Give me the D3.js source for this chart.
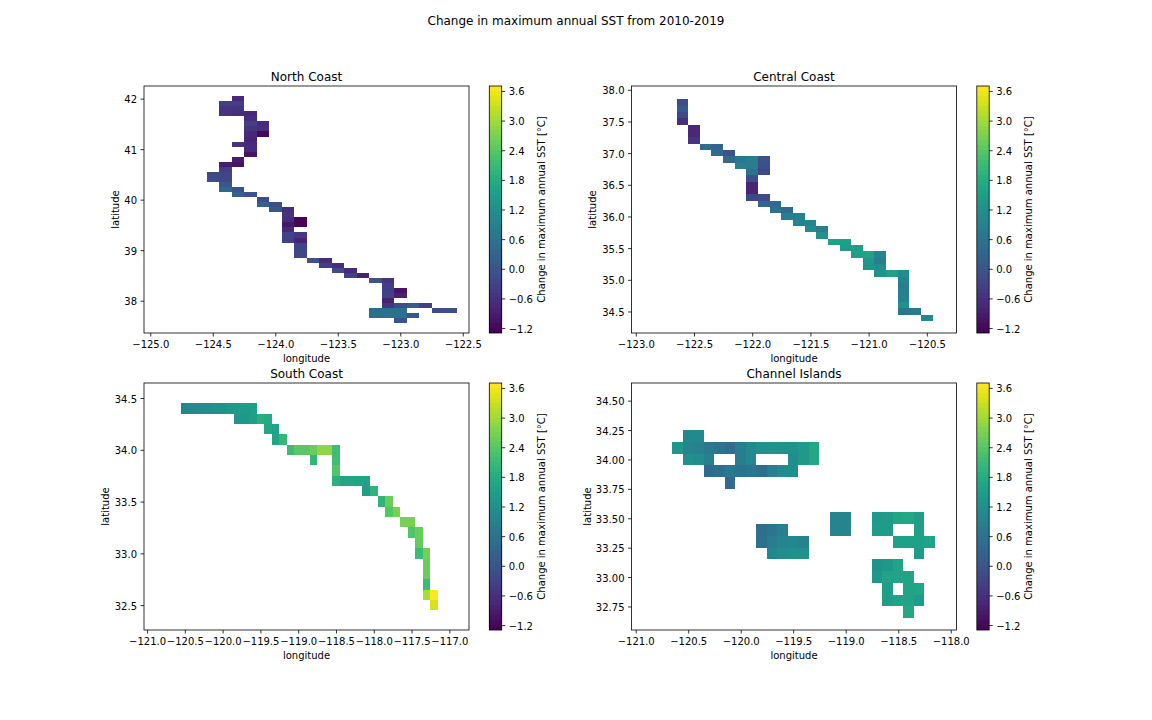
<!DOCTYPE html>
<html><head><meta charset="utf-8">
<script src="https://cdn.jsdelivr.net/npm/d3@7"></script>
<style>
html,body{margin:0;padding:0;background:#fff}
text{font-family:"DejaVu Sans";fill:#000}
</style></head><body>
<svg id="c" width="1152" height="720"></svg>
<script>
const figureTitle = "Change in maximum annual SST from 2010-2019";
const colorbarLabel = "Change in maximum annual SST [°C]";
const colorTicks = [-1.2,-0.6,0,0.6,1.2,1.8,2.4,3.0,3.6];
const colorDomain = [-1.3,3.7];

// rows: [row index from the top, first column index, values (null = no data)]
const northRows = [
[0,2,-.75],[1,1,-.35,-.4],[2,1,-.55,-.55],[3,1,-.55,-.6,-.75],[4,3,-.6],[5,3,-.4,-.7],[6,3,-.55,-.6],
[7,3,-.75,-1.2],[8,3,-.8],[9,2,-.55,-.7],[10,3,-.7],[11,3,-1.05],[12,2,-.95],[13,1,-.9,-1.05],[14,1,-.4],
[15,0,-.2,-.3],[16,0,-.15,-.25],[17,1,.05],[18,1,.35,-.05],[19,2,.25,-.05],[20,4,-.15],[21,4,.2,-.1],
[22,5,.05,-.6],[23,6,-.55],[24,6,-.65,-1.25],[25,6,-1,-1.25],[26,6,-.75],[27,6,-.3,-.5],[28,6,-.35,-.8],
[29,7,-.3],[30,7,-.3],[31,7,-.25],[32,8,-.05,-.65],[33,9,-.4,-.65],[34,10,-.15,-.7],[35,11,-.35,-.85],
[36,13,-.05,-.55],[37,14,-.4],[38,14,-.4,-1.05],[39,14,-.35,-.85],[40,14,-.85],[41,14,-.55,-.15,.15,-.35],
[42,13,.45,.5,.5,null,null,-.15,-.1],[43,13,.5,.55,.55,.05],[44,15,-.05]];

const centralRows = [
[0,0,-.15],[1,0,.1],[2,0,-.2],[3,0,-.6],[4,1,-.75],[5,1,-.75],[6,1,-.55],[7,2,.45,.3],[8,3,.4,-.05],
[9,4,.4,.7,.8,-.05],[10,5,.85,.8,-.1],[11,6,.55,-.2],[12,6,-.1],[13,6,-.8],[14,6,-.8],[15,6,-.2,-.15],
[16,7,.3,.4],[17,8,.55,.4],[18,9,.8,.85],[19,10,.9,.95],[20,11,1.15,.8],[21,12,1.2],[22,13,1.55,1.5],
[23,14,1.45,1.5],[24,15,1.55,1.6,.95],[25,16,1.35,.8],[26,16,1.3,1.15],[27,17,1.2,1.55,1.15],[28,19,.95],
[29,19,.8],[30,19,.85],[31,19,.85],[32,19,1.2],[33,19,.65,.75],[34,21,1.05]];

const southRows = [
[0,0,.95,1.05,1.1,1.15,1.2,1.25,1.35,1.4,1.45,1.5],[1,7,1.35,1.35,1.5,1.85,1.75],[2,11,1.7,1.6],[3,12,1.65,2],
[4,14,2.1,2.4,2.4,2.55,2.85,2.85,2.15],[5,17,2,null,null,2.15],[6,20,2.35],[7,20,1.9,1.65,1.65,1.6,1.6],
[8,24,1.5,1.95],[9,26,1.95,2.55],[10,27,2.35,2.7],[11,29,2.65,2.7],[12,30,2.3,2.55],[13,31,2.5],
[14,31,2.1,2.65],[15,32,2.55],[16,32,2.55],[17,32,2.1],[18,32,3.05,3.7],[19,33,3.4]];

const islandRows = [
[0,1,1.05,1.05],[1,0,1.35,.95,.9,.75,.6,.45,.8,1.05,1.2,1.3,1.25,1.2,1.4,1.7],
[2,1,1.2,1.15,.85,null,null,.8,1,null,null,null,1.15,1.4,1.7],[3,3,.4,.5,.75,.55,.65,.5,.8,1.1,1.15],[4,5,.4],
[7,15,.95,.95,null,null,1.4,1.45,1.65,1.7,1.5],[8,8,.5,.65,.8,null,null,null,null,.95,.95,null,null,1.45,1.45,null,null,1.5],
[9,8,.55,.8,.95,1,.9],[9,21,1.55,1.55,1.55,1.6],[10,9,1,1.15,1.2,1.2],[10,23,1.45],
[11,19,1.25,1.35,1.6],[12,19,1.35,1.6,1.6,1.6],[13,20,1.5,null,1.6,1.65],[14,20,1.5,1.6,1.6,1.45],[15,22,1.7]];

const lonTicksNorth = [-125,-124.5,-124,-123.5,-123,-122.5];
const latTicksNorth = [38,39,40,41,42];
const lonTicksCentral = [-123,-122.5,-122,-121.5,-121,-120.5];
const latTicksCentral = [34.5,35,35.5,36,36.5,37,37.5,38];
const lonTicksSouth = [-121,-120.5,-120,-119.5,-119,-118.5,-118,-117.5,-117];
const latTicksSouth = [32.5,33,33.5,34,34.5];
const lonTicksIslands = [-121,-120.5,-120,-119.5,-119,-118.5,-118];
const latTicksIslands = [32.75,33,33.25,33.5,33.75,34,34.25,34.5];

const panels = [
 {title:"North Coast",rows:northRows,lon0:-124.55,lat0:42.05,xd:[-125.05,-122.45],yd:[42.25,37.36],
  xt:lonTicksNorth,yt:latTicksNorth,yf:".0f",L:144,T:86,yl:118.5},
 {title:"Central Coast",rows:centralRows,lon0:-122.65,lat0:37.85,xd:[-123.037,-120.245],yd:[38.06,34.16],
  xt:lonTicksCentral,yt:latTicksCentral,yf:".1f",L:631.5,T:86,yl:596},
 {title:"South Coast",rows:southRows,lon0:-120.55,lat0:34.45,xd:[-121.04,-116.74],yd:[34.645,32.26],
  xt:lonTicksSouth,yt:latTicksSouth,yf:".1f",L:144,T:383,yl:108.5},
 {title:"Channel Islands",rows:islandRows,lon0:-120.65,lat0:34.25,xd:[-121.04,-117.945],yd:[34.65,32.55],
  xt:lonTicksIslands,yt:latTicksIslands,yf:".2f",L:631.5,T:383,yl:590.5}
];

const W=325,H=247,CBW=12.4;
const svg=d3.select("#c");
svg.append("text").attr("x",576).attr("y",24.5).attr("text-anchor","middle").attr("font-size",12).text(figureTitle);
const color=v=>d3.interpolateViridis((v-colorDomain[0])/(colorDomain[1]-colorDomain[0]));
const mfmt=f=>{const n=d3.format(f);return d=>n(d).replace("-","\u2212");};

function styleAxis(g){
  g.select(".domain").remove();
  g.selectAll("line").attr("stroke","#000").attr("stroke-width",0.8);
  g.selectAll("text").attr("font-size",10).attr("font-family","DejaVu Sans").attr("fill","#000");
}
const nudge=g=>g.selectAll("text").attr("dy","0.4em");
panels.forEach(p=>{
  const g=svg.append("g").attr("transform",`translate(${p.L},${p.T})`);
  const x=d3.scaleLinear().domain(p.xd).range([0,W]);
  const y=d3.scaleLinear().domain(p.yd).range([0,H]);
  const cells=[];
  p.rows.forEach(r=>r.slice(2).forEach((v,i)=>{ if(v!==null) cells.push({r:r[0],c:r[1]+i,v}); }));
  g.selectAll("rect.cell").data(cells).join("rect").attr("class","cell")
    .attr("x",d=>x(p.lon0+d.c*0.1)).attr("y",d=>y(p.lat0-d.r*0.1))
    .attr("width",d=>x(p.lon0+(d.c+1)*0.1)-x(p.lon0+d.c*0.1))
    .attr("height",d=>y(p.lat0-(d.r+1)*0.1)-y(p.lat0-d.r*0.1))
    .attr("fill",d=>color(d.v)).attr("shape-rendering","crispEdges");
  g.append("g").attr("transform",`translate(0,${H})`)
    .call(d3.axisBottom(x).tickValues(p.xt).tickFormat(mfmt(".1f")).tickSize(3.5).tickPadding(4)).call(styleAxis);
  g.append("g").call(d3.axisLeft(y).tickValues(p.yt).tickFormat(mfmt(p.yf)).tickSize(3.5).tickPadding(3.5)).call(styleAxis).call(nudge);
  g.append("rect").attr("width",W).attr("height",H).attr("fill","none").attr("stroke","#000").attr("stroke-width",0.8);
  g.append("text").attr("x",W/2).attr("y",-5.5).attr("text-anchor","middle").attr("font-size",12).text(p.title);
  g.append("text").attr("x",W/2).attr("y",H+29).attr("text-anchor","middle").attr("font-size",10).text("longitude");
  svg.append("text").attr("transform",`translate(${p.yl},${p.T+H/2}) rotate(-90)`).attr("text-anchor","middle").attr("font-size",10).text("latitude");
  // colour bar
  const cb=g.append("g").attr("transform",`translate(${W+20.3},0)`);
  const cy=d3.scaleLinear().domain(colorDomain).range([H,0]);
  const levels=d3.range(0,50).map(i=>colorDomain[0]+i*0.1);
  cb.selectAll("rect.lv").data(levels).join("rect").attr("class","lv")
    .attr("x",0).attr("width",CBW).attr("y",d=>cy(d+0.1)).attr("height",d=>cy(d)-cy(d+0.1))
    .attr("shape-rendering","crispEdges").attr("fill",d=>color(d+0.05));
  cb.append("rect").attr("width",CBW).attr("height",H).attr("fill","none").attr("stroke","#000").attr("stroke-width",0.8);
  cb.append("g").attr("transform",`translate(${CBW},0)`)
    .call(d3.axisRight(cy).tickValues(colorTicks).tickFormat(mfmt(".1f")).tickSize(3.5).tickPadding(3.5)).call(styleAxis).call(nudge);
  cb.append("text").attr("transform",`translate(${CBW+43},${H/2}) rotate(-90)`).attr("text-anchor","middle").attr("font-size",10).text(colorbarLabel);
});
</script></body></html>
